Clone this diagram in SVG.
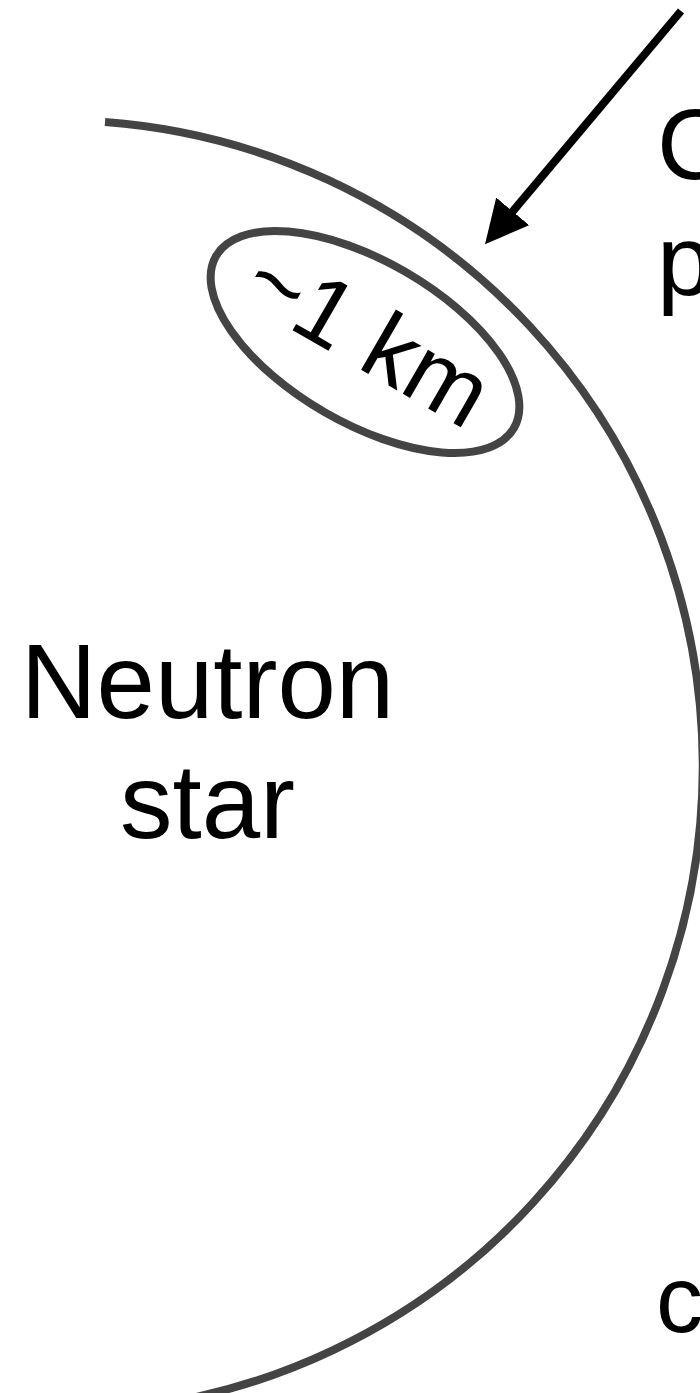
<svg xmlns="http://www.w3.org/2000/svg" width="700" height="1393" viewBox="0 0 700 1393">
  <style>
    .lbl { font-family: "Liberation Sans", Arial, sans-serif; fill: #000; }
    .outline { fill: none; stroke: #444; stroke-width: 8; }
  </style>
  <defs>
    <marker id="ah" markerUnits="userSpaceOnUse" viewBox="0 0 43 43" refX="23" refY="21.5" markerWidth="43" markerHeight="43" orient="auto">
      <path d="M0,0 L43,21.5 L0,43 z" fill="#000"/>
    </marker>
  </defs>
  <rect width="700" height="1393" fill="#fff"/>
  <g id="star">
    <path class="outline" d="M105,122 A646,646 0 0 1 110,1410"/>
    <text class="lbl" x="207.5" y="718" font-size="105" text-anchor="middle">Neutron</text>
    <text class="lbl" x="207.5" y="838" font-size="105" text-anchor="middle">star</text>
  </g>
  <g id="region" transform="translate(365,342) rotate(30)">
    <ellipse class="outline" cx="0" cy="0" rx="172" ry="81"/>
    <text class="lbl" x="0" y="26" font-size="96" text-anchor="middle">~1 km</text>
  </g>
  <g id="label-top">
    <text class="lbl" x="657" y="178.5" font-size="100">C</text>
    <text class="lbl" x="657" y="294.5" font-size="100">p</text>
  </g>
  <g id="label-bottom">
    <text class="lbl" x="656" y="1332" font-size="94">c</text>
  </g>
  <g id="connectors">
    <line x1="681" y1="11" x2="497.9" y2="229" stroke="#000" stroke-width="8" marker-end="url(#ah)"/>
  </g>
</svg>
